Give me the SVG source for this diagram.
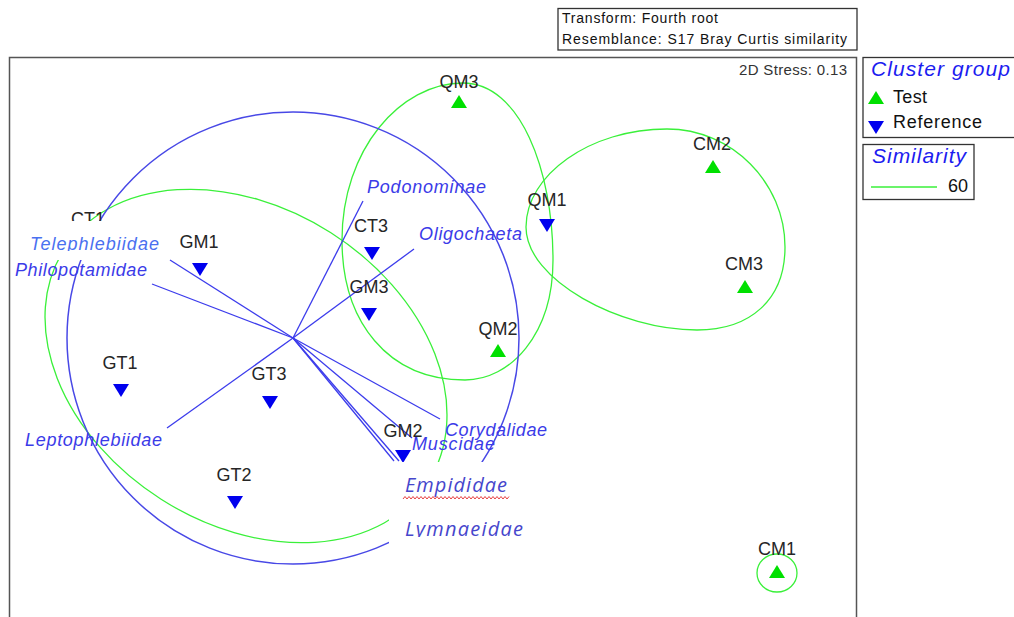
<svg xmlns="http://www.w3.org/2000/svg" xmlns:xlink="http://www.w3.org/1999/xlink" width="1014" height="617" viewBox="0 0 1014 617">
<style>
.frame{fill:none;stroke:#555;stroke-width:1.5}
.box{fill:#fff;stroke:#333;stroke-width:1.3}
.hull{fill:none;stroke:#3af03a;stroke-width:1.3}
.circ{fill:none;stroke:#4848e6;stroke-width:1.5}
.vec{stroke:#3c3cec;stroke-width:1.3;fill:none}
.lab{font-family:"Liberation Sans",Arial,sans-serif;font-size:18px;fill:#262626;text-anchor:middle}
.vlab{font-family:"Liberation Sans",Arial,sans-serif;font-size:18px;font-style:italic;fill:#3b3be8}
.wlab{font-family:"Open Sans","Noto Sans",sans-serif;font-size:20px;font-style:italic;fill:#4646cc}
.info{font-family:"Liberation Sans",Arial,sans-serif;font-size:14px;fill:#111}
.leg{font-family:"Liberation Sans",Arial,sans-serif;font-size:18px;fill:#111}
.legt{font-family:"Liberation Sans",Arial,sans-serif;font-size:21px;font-style:italic;fill:#1c1cf0}
.up{fill:#00e000}
.down{fill:#0000ee}
</style>
<defs>
<path id="tu" d="M0,-7 L8,6 L-8,6 Z"/>
<path id="td" d="M-8,-6 L8,-6 L0,7 Z"/>
<clipPath id="clipTel"><rect x="0" y="200" width="200" height="51"/></clipPath>
<clipPath id="clipLym"><rect x="380" y="500" width="200" height="37"/></clipPath>
</defs>
<rect width="1014" height="617" fill="#fff"/>

<!-- header info box -->
<g id="info">
<rect class="box" x="558" y="8.5" width="299" height="41.5"/>
<text class="info" x="562" y="23" textLength="156">Transform: Fourth root</text>
<text class="info" x="562" y="44" textLength="285">Resemblance: S17 Bray Curtis similarity</text>
</g>

<!-- plot frame -->
<rect class="frame" x="9.5" y="57.5" width="847" height="600"/>
<text x="739" y="75" font-family="Liberation Sans, Arial, sans-serif" font-size="15" fill="#333" textLength="108">2D Stress: 0.13</text>

<!-- similarity hulls and vector circle -->
<g id="hulls">
<path class="hull" d="M463,83 C520,83 553,170 553,260 C553,335 510,380 465,380 C388,380 342,322 342,240 C342,150 400,83 463,83 Z"/>
<path class="hull" d="M526,227 C526,175 590,129 667,129 C732,129 785,183 785,247 C785,300 750,330 697,330 C620,330 526,280 526,227 Z"/>
<ellipse class="hull" cx="246" cy="366" rx="216" ry="158" transform="rotate(32.5 246 366)"/>
<ellipse class="hull" cx="777" cy="573" rx="20" ry="19"/>
<circle class="circ" cx="293" cy="338" r="226"/>
</g>

<!-- vectors -->
<g id="connectors">
<line class="vec" x1="293" y1="338" x2="363" y2="201"/>
<line class="vec" x1="293" y1="338" x2="414" y2="249"/>
<line class="vec" x1="293" y1="338" x2="170" y2="260"/>
<line class="vec" x1="293" y1="338" x2="152" y2="284"/>
<line class="vec" x1="293" y1="338" x2="167" y2="428"/>
<line class="vec" x1="293" y1="338" x2="440" y2="419"/>
<line class="vec" x1="293" y1="338" x2="412" y2="438"/>
<line class="vec" x1="293" y1="338" x2="399" y2="461"/>
<line class="vec" x1="293" y1="338" x2="394" y2="461"/>
</g>

<!-- samples -->
<g id="QM3"><use href="#tu" class="up" x="459" y="102"/><text class="lab" x="459" y="88">QM3</text></g>
<g id="CM2"><use href="#tu" class="up" x="713" y="167"/><text class="lab" x="712" y="150">CM2</text></g>
<g id="QM1"><use href="#td" class="down" x="547" y="225"/><text class="lab" x="547" y="206">QM1</text></g>
<g id="CM3"><use href="#tu" class="up" x="745" y="287"/><text class="lab" x="744" y="270">CM3</text></g>
<g id="CT3"><use href="#td" class="down" x="372" y="253"/><text class="lab" x="371" y="232">CT3</text></g>
<g id="GM3"><use href="#td" class="down" x="369" y="314"/><text class="lab" x="369" y="293">GM3</text></g>
<g id="QM2"><use href="#tu" class="up" x="498" y="351"/><text class="lab" x="498" y="335">QM2</text></g>
<g id="GM1"><use href="#td" class="down" x="200" y="269"/><text class="lab" x="199" y="248">GM1</text></g>
<g id="GT1"><use href="#td" class="down" x="121" y="390"/><text class="lab" x="120" y="369">GT1</text></g>
<g id="GT3"><use href="#td" class="down" x="270" y="402"/><text class="lab" x="269" y="380">GT3</text></g>
<g id="GM2"><use href="#td" class="down" x="403" y="456"/><text class="lab" x="403" y="437">GM2</text></g>
<g id="GT2"><use href="#td" class="down" x="235" y="502"/><text class="lab" x="234" y="481">GT2</text></g>
<g id="CM1"><use href="#tu" class="up" x="777" y="572"/><text class="lab" x="777" y="555">CM1</text></g>
<g id="CT1"><text class="lab" x="88" y="225">CT1</text></g>

<!-- pasted label backgrounds -->
<rect x="20" y="221" width="148" height="39" fill="#fff"/>
<rect x="389" y="462" width="145" height="86" fill="#fff"/>

<!-- vector labels -->
<g id="vector-labels">
<text class="vlab" x="367" y="193" textLength="119">Podonominae</text>
<text class="vlab" x="419" y="240" textLength="103">Oligochaeta</text>
<text class="vlab" x="30" y="250" textLength="129" style="fill:#4a70f0" clip-path="url(#clipTel)">Telephlebiidae</text>
<text class="vlab" x="15" y="276" textLength="132">Philopotamidae</text>
<text class="vlab" x="25" y="446" textLength="137">Leptophlebiidae</text>
<text class="vlab" x="445" y="436" textLength="102">Corydalidae</text>
<text class="vlab" x="412" y="450" textLength="83">Muscidae</text>
<text class="wlab" x="405" y="492" textLength="102">Empididae</text>
<path d="M403,499 l2,-2.5 2,2.5 2,-2.5 2,2.5 2,-2.5 2,2.5 2,-2.5 2,2.5 2,-2.5 2,2.5 2,-2.5 2,2.5 2,-2.5 2,2.5 2,-2.5 2,2.5 2,-2.5 2,2.5 2,-2.5 2,2.5 2,-2.5 2,2.5 2,-2.5 2,2.5 2,-2.5 2,2.5 2,-2.5 2,2.5 2,-2.5 2,2.5 2,-2.5 2,2.5 2,-2.5 2,2.5 2,-2.5 2,2.5 2,-2.5 2,2.5 2,-2.5 2,2.5 2,-2.5 2,2.5 2,-2.5 2,2.5 2,-2.5 2,2.5 2,-2.5 2,2.5 2,-2.5 2,2.5 2,-2.5 2,2.5 2,-2.5" fill="none" stroke="#e84040" stroke-width="1"/>
<text class="wlab" x="405" y="536" textLength="118" clip-path="url(#clipLym)">Lymnaeidae</text>
</g>

<!-- legends -->
<g id="legend-cluster">
<rect class="box" x="863" y="57.5" width="160" height="80"/>
<text class="legt" x="871" y="76" textLength="139">Cluster group</text>
<use href="#tu" class="up" x="876" y="98"/>
<text class="leg" x="893" y="103" textLength="34">Test</text>
<use href="#td" class="down" x="876" y="127"/>
<text class="leg" x="893" y="128" textLength="89">Reference</text>
</g>
<g id="legend-similarity">
<rect class="box" x="863" y="144.5" width="111" height="55"/>
<text class="legt" x="872" y="163" textLength="94">Similarity</text>
<line x1="871" y1="187" x2="937" y2="187" stroke="#3af03a" stroke-width="1.3"/>
<text class="leg" x="948" y="192">60</text>
</g>
</svg>
